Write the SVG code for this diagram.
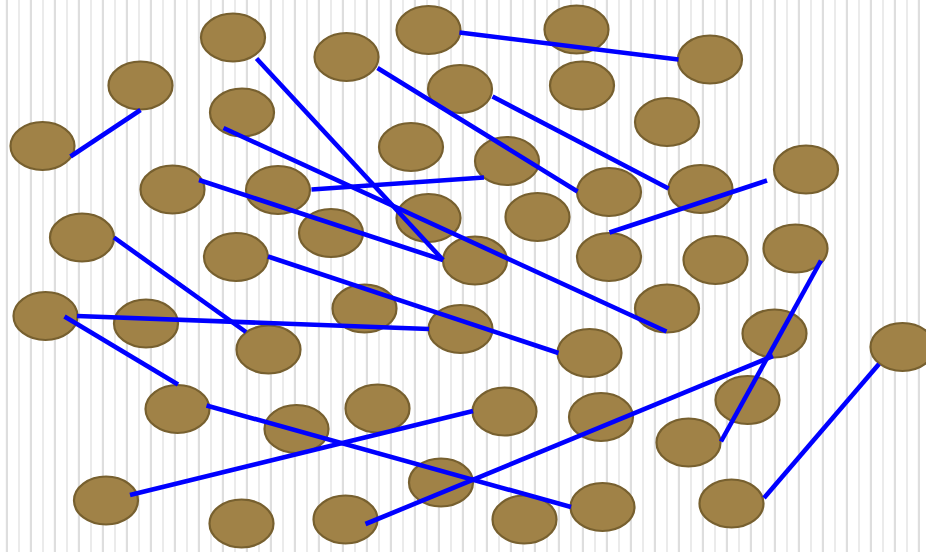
<svg xmlns="http://www.w3.org/2000/svg" width="926" height="552" viewBox="0 0 926 552">
<defs>
<pattern id="grid" x="0" y="0" width="24" height="552" patternUnits="userSpaceOnUse">
<rect x="5.8" y="0" width="2.2" height="552" fill="#dedede"/>
<rect x="18.3" y="0" width="1.4" height="552" fill="#e2e2e2"/>
</pattern>
<style>
.n ellipse{fill:#a08247;stroke:#77602f;stroke-width:2.2}
.c line{stroke:#0000ff;stroke-width:4.6;stroke-linecap:butt}
</style>
</defs>
<rect width="926" height="552" fill="#ffffff"/>
<rect width="926" height="552" fill="url(#grid)"/>
<g id="nodes" class="n">
<g id="n1"><ellipse cx="42.5" cy="146" rx="32" ry="24"/></g>
<g id="n2"><ellipse cx="140.5" cy="85.5" rx="32" ry="24"/></g>
<g id="n3"><ellipse cx="233" cy="37.5" rx="32" ry="24"/></g>
<g id="n4"><ellipse cx="242" cy="112.5" rx="32" ry="24"/></g>
<g id="n5"><ellipse cx="172.5" cy="189.5" rx="32" ry="24"/></g>
<g id="n6"><ellipse cx="278" cy="190" rx="32" ry="24"/></g>
<g id="n7"><ellipse cx="346.5" cy="57" rx="32" ry="24"/></g>
<g id="n8"><ellipse cx="428.5" cy="30" rx="32" ry="24"/></g>
<g id="n9"><ellipse cx="576.5" cy="29.5" rx="32" ry="24"/></g>
<g id="n10"><ellipse cx="460" cy="89" rx="32" ry="24"/></g>
<g id="n11"><ellipse cx="582" cy="85.5" rx="32" ry="24"/></g>
<g id="n12"><ellipse cx="411" cy="147" rx="32" ry="24"/></g>
<g id="n13"><ellipse cx="507" cy="161" rx="32" ry="24"/></g>
<g id="n14"><ellipse cx="609" cy="192" rx="32" ry="24"/></g>
<g id="n15"><ellipse cx="710" cy="59.5" rx="32" ry="24"/></g>
<g id="n16"><ellipse cx="667" cy="122" rx="32" ry="24"/></g>
<g id="n17"><ellipse cx="806" cy="169.5" rx="32" ry="24"/></g>
<g id="n18"><ellipse cx="700.5" cy="189" rx="32" ry="24"/></g>
<g id="n19"><ellipse cx="82" cy="237.5" rx="32" ry="24"/></g>
<g id="n20"><ellipse cx="236" cy="257" rx="32" ry="24"/></g>
<g id="n21"><ellipse cx="45.5" cy="316" rx="32" ry="24"/></g>
<g id="n22"><ellipse cx="146" cy="323.5" rx="32" ry="24"/></g>
<g id="n23"><ellipse cx="268.5" cy="349.5" rx="32" ry="24"/></g>
<g id="n24"><ellipse cx="331" cy="233" rx="32" ry="24"/></g>
<g id="n25"><ellipse cx="428.5" cy="218" rx="32" ry="24"/></g>
<g id="n26"><ellipse cx="475" cy="260.5" rx="32" ry="24"/></g>
<g id="n27"><ellipse cx="537.5" cy="217" rx="32" ry="24"/></g>
<g id="n28"><ellipse cx="364.5" cy="308.5" rx="32" ry="24"/></g>
<g id="n29"><ellipse cx="460.5" cy="329" rx="32" ry="24"/></g>
<g id="n30"><ellipse cx="589.5" cy="353" rx="32" ry="24"/></g>
<g id="n31"><ellipse cx="609" cy="257" rx="32" ry="24"/></g>
<g id="n32"><ellipse cx="715.5" cy="260" rx="32" ry="24"/></g>
<g id="n33"><ellipse cx="795.5" cy="248.5" rx="32" ry="24"/></g>
<g id="n34"><ellipse cx="667" cy="308.5" rx="32" ry="24"/></g>
<g id="n35"><ellipse cx="774.5" cy="333.5" rx="32" ry="24"/></g>
<g id="n36"><ellipse cx="902.5" cy="347" rx="32" ry="24"/></g>
<g id="n37"><ellipse cx="177.5" cy="409" rx="32" ry="24"/></g>
<g id="n38"><ellipse cx="296.5" cy="429" rx="32" ry="24"/></g>
<g id="n39"><ellipse cx="106" cy="500.5" rx="32" ry="24"/></g>
<g id="n40"><ellipse cx="241.5" cy="523.5" rx="32" ry="24"/></g>
<g id="n41"><ellipse cx="377.5" cy="408.5" rx="32" ry="24"/></g>
<g id="n42"><ellipse cx="504.5" cy="411.5" rx="32" ry="24"/></g>
<g id="n43"><ellipse cx="601" cy="417" rx="32" ry="24"/></g>
<g id="n44"><ellipse cx="441" cy="482.5" rx="32" ry="24"/></g>
<g id="n45"><ellipse cx="345.5" cy="519.5" rx="32" ry="24"/></g>
<g id="n46"><ellipse cx="524.5" cy="519.5" rx="32" ry="24"/></g>
<g id="n47"><ellipse cx="602.5" cy="507" rx="32" ry="24"/></g>
<g id="n48"><ellipse cx="747.5" cy="400" rx="32" ry="24"/></g>
<g id="n49"><ellipse cx="688.5" cy="442.5" rx="32" ry="24"/></g>
<g id="n50"><ellipse cx="731.5" cy="503.5" rx="32" ry="24"/></g>
</g>
<g id="connectors" class="c">
<line x1="70.5" y1="156.5" x2="140.5" y2="110"/>
<line x1="256.5" y1="58.5" x2="443" y2="260"/>
<line x1="223.5" y1="128" x2="666.5" y2="331.5"/>
<line x1="199" y1="180" x2="443" y2="260"/>
<line x1="377.5" y1="68" x2="577.5" y2="191.5"/>
<line x1="492.5" y1="96.5" x2="668.5" y2="188.5"/>
<line x1="459.5" y1="32.5" x2="678.5" y2="59.5"/>
<line x1="311.5" y1="189.5" x2="484" y2="177.5"/>
<line x1="609.5" y1="232.5" x2="767" y2="180.5"/>
<line x1="114" y1="237.5" x2="246" y2="332"/>
<line x1="77" y1="316" x2="429" y2="329"/>
<line x1="64.5" y1="316.5" x2="178" y2="384.5"/>
<line x1="268" y1="256.5" x2="558.5" y2="353"/>
<line x1="206.5" y1="405.5" x2="571" y2="507"/>
<line x1="130" y1="495" x2="473" y2="411"/>
<line x1="365.5" y1="524" x2="773" y2="356"/>
<line x1="821" y1="260.5" x2="721" y2="441.5"/>
<line x1="879" y1="364" x2="764" y2="498"/>
</g>
</svg>
